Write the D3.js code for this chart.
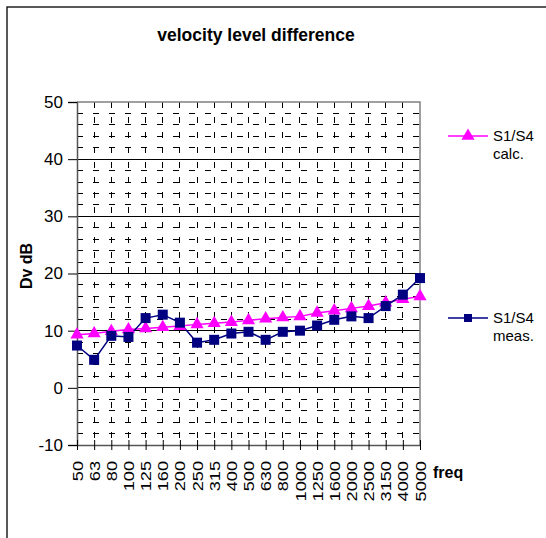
<!DOCTYPE html>
<html>
<head>
<meta charset="utf-8">
<script src="https://cdn.jsdelivr.net/npm/d3@7"></script>
<style>
  body { margin: 0; background: #fff; }
  text { font-family: "Liberation Sans", Arial, sans-serif; }
</style>
</head>
<body>
<svg id="chart" width="546" height="538"></svg>
<script>
// frequency bands (Hz)
const freqs = ["50", "63", "80", "100", "125", "160", "200", "250", "315", "400", "500",
    "630", "800", "1000", "1250", "1600", "2000", "2500", "3150", "4000", "5000"];

// S1/S4 calc. (magenta triangles)
const calcValues = [9.3, 9.5, 9.9, 10.2, 10.4, 10.6, 10.8, 11.1, 11.3, 11.5, 11.8,
    12.1, 12.3, 12.5, 13.1, 13.5, 13.9, 14.3, 14.9, 15.5, 16.0];

// S1/S4 meas. (navy squares)
const measValues = [7.4, 4.9, 9.1, 8.9, 12.2, 12.8, 11.4, 7.9, 8.4, 9.5, 9.8,
    8.4, 9.8, 10.0, 10.9, 11.9, 12.5, 12.2, 14.3, 16.3, 19.2];

const yTicks = [-10, 0, 10, 20, 30, 40, 50];
const yMinor = d3.range(-8, 50, 2).filter(v => v % 10 != 0);

const svg = d3.select("#chart");

// plot area
const plotLeft = 77, plotRight = 420, plotTop = 102, plotBottom = 445;

const x = d3.scalePoint().domain(freqs).range([plotLeft, plotRight]);
const y = d3.scaleLinear().domain([-10, 50]).range([plotBottom, plotTop]);

//outer chart frame
svg.append("rect")
    .attr("x", 7).attr("y", 7)
    .attr("width", 560).attr("height", 560)
    .attr("fill", "none")
    .attr("stroke", "#000")
    .attr("stroke-width", 1.3);

//title
svg.append("text")
    .attr("x", 256).attr("y", 41)
    .attr("text-anchor", "middle")
    .attr("font-size", 17.5)
    .attr("font-weight", "bold")
    .text("velocity level difference");

//minor horizontal grid, dashed
svg.append("g").selectAll("line")
    .data(yMinor)
    .join("line")
    .attr("x1", plotLeft).attr("x2", plotRight)
    .attr("y1", d => y(d)).attr("y2", d => y(d))
    .attr("stroke", "#000")
    .attr("stroke-width", 1)
    .attr("stroke-dasharray", "6,10")
    .attr("shape-rendering", "crispEdges");

//vertical grid at every band, dashed
svg.append("g").selectAll("line")
    .data(freqs.slice(1, -1))
    .join("line")
    .attr("x1", d => x(d)).attr("x2", d => x(d))
    .attr("y1", plotTop).attr("y2", plotBottom)
    .attr("stroke", "#000")
    .attr("stroke-width", 1)
    .attr("stroke-dasharray", "6,9")
    .attr("shape-rendering", "crispEdges");

//major horizontal grid
svg.append("g").selectAll("line")
    .data(yTicks.slice(1, -1))
    .join("line")
    .attr("x1", plotLeft).attr("x2", plotRight)
    .attr("y1", d => y(d)).attr("y2", d => y(d))
    .attr("stroke", "#000")
    .attr("stroke-width", 1)
    .attr("shape-rendering", "crispEdges");

//plot area border top/right
svg.append("path")
    .attr("d", `M${plotLeft},${plotTop}H${plotRight}V${plotBottom}`)
    .attr("fill", "none")
    .attr("stroke", "#808080")
    .attr("stroke-width", 1.5);

//y axis
const yAxis = svg.append("g")
    .attr("transform", `translate(${plotLeft},0)`)
    .call(d3.axisLeft(y).tickValues(yTicks).tickFormat(d => String(d)).tickSize(9).tickPadding(5));
yAxis.select(".domain").attr("stroke", "#555").attr("stroke-width", 1.5);
yAxis.selectAll(".tick line").attr("stroke", "#000");
yAxis.selectAll("text")
    .attr("font-family", "Liberation Sans, Arial, sans-serif")
    .attr("font-size", 17)
    .attr("fill", "#000");

//x axis, ticks cross the axis line
const xAxis = svg.append("g")
    .attr("transform", `translate(0,${plotBottom})`)
    .call(d3.axisBottom(x).tickSize(5).tickSizeOuter(0));
xAxis.select(".domain").attr("stroke", "#555").attr("stroke-width", 1.5);
xAxis.selectAll(".tick line").attr("y1", -5).attr("y2", 5).attr("stroke", "#000");
xAxis.selectAll("text")
    .attr("font-family", "Liberation Sans, Arial, sans-serif")
    .attr("font-size", 14)
    .attr("fill", "#000")
    .attr("text-anchor", "end")
    .attr("dy", "0.36em")
    .attr("transform", "translate(0,16) rotate(-90) scale(1.3,1)")
    .attr("x", 0).attr("y", 0);

//axis titles
svg.append("text")
    .attr("transform", "translate(32,266) rotate(-90)")
    .attr("text-anchor", "middle")
    .attr("font-size", 16)
    .attr("font-weight", "bold")
    .text("Dv dB");

svg.append("text")
    .attr("x", 433).attr("y", 478)
    .attr("font-size", 16)
    .attr("font-weight", "bold")
    .text("freq");

//series
const calcColor = "#ff00ff", measColor = "#000080";
const line = d3.line().x((d, i) => x(freqs[i])).y(d => y(d));

svg.append("path")
    .datum(calcValues)
    .attr("d", line)
    .attr("fill", "none")
    .attr("stroke", calcColor)
    .attr("stroke-width", 1.5);

svg.append("path")
    .datum(measValues)
    .attr("d", line)
    .attr("fill", "none")
    .attr("stroke", measColor)
    .attr("stroke-width", 1.5);

const tri = d3.symbol().type(d3.symbolTriangle).size(75);
svg.append("g").selectAll("path")
    .data(calcValues)
    .join("path")
    .attr("d", tri)
    .attr("transform", (d, i) => `translate(${x(freqs[i])},${y(d)})`)
    .attr("fill", calcColor);

svg.append("g").selectAll("rect")
    .data(measValues)
    .join("rect")
    .attr("x", (d, i) => x(freqs[i]) - 5)
    .attr("y", d => y(d) - 5)
    .attr("width", 10).attr("height", 10)
    .attr("fill", measColor);

//legend
function legendEntry(ly, color, isTriangle, label2) {
    const g = svg.append("g");
    g.append("line")
        .attr("x1", 448).attr("x2", 488)
        .attr("y1", ly).attr("y2", ly)
        .attr("stroke", color).attr("stroke-width", 1.5);
    if (isTriangle) {
        g.append("path").attr("d", tri)
            .attr("transform", `translate(468,${ly})`)
            .attr("fill", color);
    } else {
        g.append("rect")
            .attr("x", 464).attr("y", ly - 4)
            .attr("width", 8).attr("height", 8)
            .attr("fill", color);
    }
    g.append("text").attr("x", 493).attr("y", ly + 5)
        .attr("font-size", 15).text("S1/S4");
    g.append("text").attr("x", 493).attr("y", ly + 23)
        .attr("font-size", 15).text(label2);
}
legendEntry(136, calcColor, true, "calc.");
legendEntry(318, measColor, false, "meas.");
</script>
</body>
</html>
